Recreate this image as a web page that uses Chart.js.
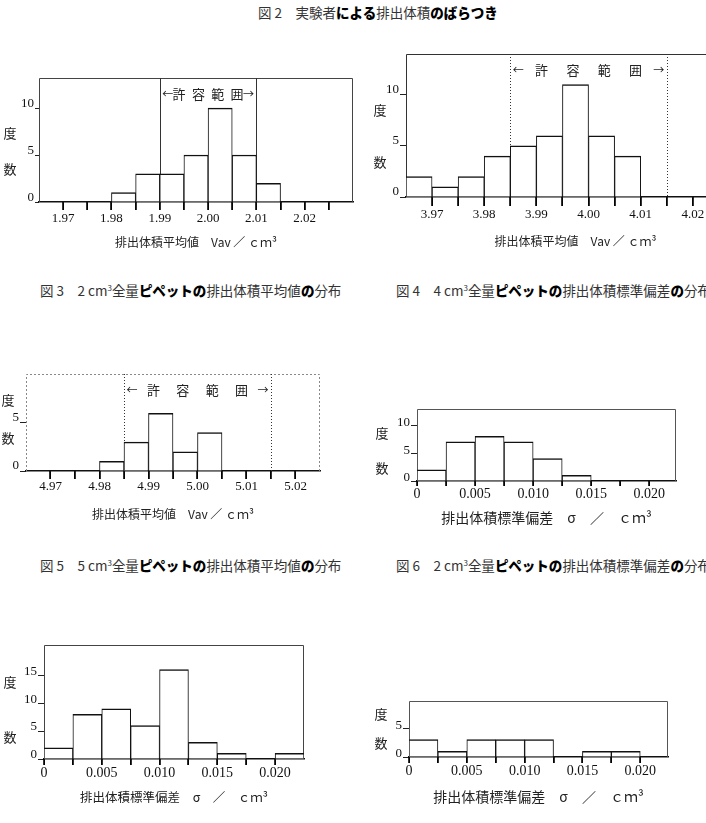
<!DOCTYPE html>
<html lang="ja">
<head>
<meta charset="utf-8">
<title>図2 実験者による排出体積のばらつき</title>
<script src="https://cdn.jsdelivr.net/npm/chart.js@4.4.1/dist/chart.umd.min.js"></script>
<style>
  html, body { margin: 0; padding: 0; background: #fff; overflow: hidden; }
  body { width: 706px; height: 823px; position: relative; font-family: "Noto Sans CJK JP", sans-serif; color: #222; }
  canvas { position: absolute; }
  .cap { position: absolute; font-size: 13.5px; line-height: 16px; white-space: nowrap; color: #333; }
  .cap b { font-weight: 900; color: #000; }
  .cap sup { font-size: 8px; vertical-align: 5px; line-height: 0; }
  .ylab { position: absolute; font-size: 13px; line-height: 14px; transform: translate(-50%, -50%); color: #222; }
</style>
</head>
<body>
<div class="cap" style="left:258px; top:4px;">図 2　実験者<b>による</b>排出体積<b>のばらつき</b></div>

<canvas id="fig2a" width="360" height="200" style="left:0px; top:60px;"></canvas>
<canvas id="fig2b" width="400" height="224" style="left:360px; top:36px;"></canvas>
<div class="ylab" style="left:10px; top:133px;">度</div>
<div class="ylab" style="left:10px; top:169px;">数</div>
<div class="ylab" style="left:380px; top:110px;">度</div>
<div class="ylab" style="left:380px; top:162px;">数</div>

<div class="cap" style="left:40px; top:282px;">図 3　2 cm<sup>3</sup>全量<b>ピペットの</b>排出体積平均値<b>の</b>分布</div>
<div class="cap" style="left:396px; top:282px;">図 4　4 cm<sup>3</sup>全量<b>ピペットの</b>排出体積標準偏差<b>の</b>分布</div>

<canvas id="fig3" width="330" height="170" style="left:0px; top:356px;"></canvas>
<canvas id="fig4" width="316" height="140" style="left:370px; top:391px;"></canvas>
<div class="ylab" style="left:8px; top:400px;">度</div>
<div class="ylab" style="left:8px; top:438px;">数</div>
<div class="ylab" style="left:382px; top:433px;">度</div>
<div class="ylab" style="left:382px; top:468px;">数</div>

<div class="cap" style="left:40px; top:557px;">図 5　5 cm<sup>3</sup>全量<b>ピペットの</b>排出体積平均値<b>の</b>分布</div>
<div class="cap" style="left:396px; top:557px;">図 6　2 cm<sup>3</sup>全量<b>ピペットの</b>排出体積標準偏差<b>の</b>分布</div>

<canvas id="fig5" width="314" height="180" style="left:0px; top:627px;"></canvas>
<canvas id="fig6" width="318" height="124" style="left:360px; top:683px;"></canvas>
<div class="ylab" style="left:10px; top:682px;">度</div>
<div class="ylab" style="left:10px; top:737px;">数</div>
<div class="ylab" style="left:381px; top:714px;">度</div>
<div class="ylab" style="left:381px; top:743px;">数</div>

<script>
// bin widths (cm3)
const meanBinWidth = 0.005;
const sdBinWidth = 0.0025;

// 2 cm3 pipette, mean volume (bin lower edges / counts)
const fig2aBins = [1.980, 1.985, 1.990, 1.995, 2.000, 2.005, 2.010];
const fig2aCounts = [1, 3, 3, 5, 10, 5, 2];
const fig2aTicks = [1.970, 1.975, 1.980, 1.985, 1.990, 1.995, 2.000, 2.005, 2.010, 2.015, 2.020, 2.025];
const fig2aLabels = ['1.97', '', '1.98', '', '1.99', '', '2.00', '', '2.01', '', '2.02', ''];
const fig2aRange = [1.99, 2.01];

// 4 cm3 pipette, mean volume
const fig2bBins = [3.965, 3.970, 3.975, 3.980, 3.985, 3.990, 3.995, 4.000, 4.005];
const fig2bCounts = [2, 1, 2, 4, 5, 6, 11, 6, 4];
const fig2bTicks = [3.970, 3.975, 3.980, 3.985, 3.990, 3.995, 4.000, 4.005, 4.010, 4.015, 4.020, 4.025];
const fig2bLabels = ['3.97', '', '3.98', '', '3.99', '', '4.00', '', '4.01', '', '4.02', ''];
const fig2bRange = [3.985, 4.015];

// 5 cm3 pipette, mean volume
const fig3Bins = [4.980, 4.985, 4.990, 4.995, 5.000];
const fig3Counts = [1, 3, 6, 2, 4];
const fig3Ticks = [4.970, 4.975, 4.980, 4.985, 4.990, 4.995, 5.000, 5.005, 5.010, 5.015, 5.020];
const fig3Labels = ['4.97', '', '4.98', '', '4.99', '', '5.00', '', '5.01', '', '5.02'];
const fig3Range = [4.985, 5.015];

// standard deviations
const sdTicks = [0, 0.0025, 0.005, 0.0075, 0.010, 0.0125, 0.015, 0.0175, 0.020];
const sdLabels = ['0', '', '0.005', '', '0.010', '', '0.015', '', '0.020'];

const fig4Bins = [0, 0.0025, 0.005, 0.0075, 0.010, 0.0125];
const fig4Counts = [2, 7, 8, 7, 4, 1];

const fig5Bins = [0, 0.0025, 0.005, 0.0075, 0.010, 0.0125, 0.015, 0.0175, 0.020];
const fig5Counts = [2, 8, 9, 6, 16, 3, 1, 0, 1];

const fig6Bins = [0, 0.0025, 0.005, 0.0075, 0.010, 0.0125, 0.015, 0.0175];
const fig6Counts = [3, 1, 3, 3, 3, 0, 1, 1];

const yTicks5 = [0, 5];
const yTicks10 = [0, 5, 10];
const yTicks15 = [0, 5, 10, 15];

const meanTitle = '排出体積平均値　Vav ／ ｃｍ³';
const sdTitle = '排出体積標準偏差　σ　／　ｃｍ³';

const jpFont = '"Noto Sans CJK JP", sans-serif';
const numFont = '"Liberation Serif", serif';

// frame box, tolerance range ("許容範囲") and tick marks under the x axis
const decor = {
  id: 'decor',
  beforeDatasetsDraw(chart, args, opts) {
    const { ctx, chartArea: a } = chart;
    const x = chart.scales.x;
    ctx.save();
    ctx.strokeStyle = opts.frameColor;
    ctx.lineWidth = 1;
    ctx.setLineDash(opts.frameDash || []);
    ctx.beginPath();
    ctx.moveTo(a.left + 0.5, a.bottom);
    ctx.lineTo(a.left + 0.5, a.top + 0.5);
    ctx.lineTo(a.right - 0.5, a.top + 0.5);
    ctx.lineTo(a.right - 0.5, a.bottom);
    ctx.stroke();

    if (opts.range) {
      const x1 = x.getPixelForValue(opts.range[0]);
      const x2 = x.getPixelForValue(opts.range[1]);
      ctx.strokeStyle = '#333';
      ctx.setLineDash(opts.rangeDash || []);
      ctx.beginPath();
      [x1, x2].forEach(px => {
        ctx.moveTo(Math.round(px) + 0.5, a.top);
        ctx.lineTo(Math.round(px) + 0.5, a.bottom);
      });
      ctx.stroke();
      ctx.setLineDash([]);
      ctx.fillStyle = '#222';
      ctx.textAlign = 'center';
      ctx.textBaseline = 'middle';
      const y = a.top + 16;
      const w = x2 - x1;
      ctx.font = '11px ' + jpFont;
      ctx.fillText('←', x1 + 8, y);
      ctx.fillText('→', x2 - 8, y);
      ctx.font = '13px ' + jpFont;
      ['許', '容', '範', '囲'].forEach((ch, i) => ctx.fillText(ch, x1 + w * (0.2 + 0.2 * i), y));
    }
    ctx.restore();
  },
  afterDraw(chart, args, opts) {
    const { ctx, chartArea: a } = chart;
    const x = chart.scales.x;
    const len = opts.tickLen || 6;
    ctx.save();
    ctx.strokeStyle = '#000';
    ctx.lineWidth = 1.6;
    ctx.beginPath();
    for (let i = 0; i < x.ticks.length; i++) {
      const px = Math.round(x.getPixelForValue(x.ticks[i].value));
      ctx.moveTo(px, a.bottom);
      ctx.lineTo(px, a.bottom + len);
    }
    ctx.stroke();
    ctx.restore();
  }
};

function histogram(id, o) {
  const points = o.bins
    .map((b, i) => ({ x: b + o.width / 2, y: o.counts[i] }))
    .filter(p => p.y > 0);

  return new Chart(document.getElementById(id), {
    type: 'bar',
    data: {
      datasets: [{
        data: points,
        backgroundColor: '#fff',
        borderColor: '#111',
        borderWidth: { top: 1.5, left: 1, right: 1, bottom: 0 },
        barPercentage: 1,
        categoryPercentage: 1
      }]
    },
    options: {
      responsive: false,
      animation: false,
      events: [],
      layout: { padding: { top: o.padTop, right: o.padRight, left: 0, bottom: 0 } },
      plugins: {
        legend: { display: false },
        tooltip: { enabled: false },
        decor: {
          frameColor: o.frameColor, frameDash: o.frameDash,
          range: o.range, rangeDash: o.rangeDash, tickLen: o.xTick
        }
      },
      scales: {
        x: {
          type: 'linear',
          min: o.xMin,
          max: o.xMax,
          offset: false,
          afterBuildTicks: s => { s.ticks = o.xTicks.map(v => ({ value: v })); },
          afterFit: s => { s.height = o.xH; },
          ticks: {
            autoSkip: false,
            maxRotation: 0,
            padding: o.xPad,
            color: '#111',
            font: { family: numFont, size: o.numSize },
            callback: (v, i) => o.xLabels[i]
          },
          grid: {
            drawOnChartArea: false,
            offset: false,
            tickLength: o.xTick,
            tickColor: '#111'
          },
          border: { color: '#111', width: 1.5 },
          title: {
            display: true,
            text: o.title,
            color: '#222',
            font: { family: jpFont, size: o.titleSize },
            padding: { top: 0, bottom: o.titlePad }
          }
        },
        y: {
          min: 0,
          max: o.yMax,
          afterBuildTicks: s => { s.ticks = o.yTicks.map(v => ({ value: v })); },
          afterFit: s => { s.width = o.yW; },
          ticks: {
            padding: 1,
            labelOffset: o.yLabelOffset,
            color: '#111',
            font: { family: numFont, size: 13 },
            callback: v => String(v)
          },
          grid: { drawOnChartArea: false, tickLength: o.yTick, tickColor: '#222' },
          border: { display: false }
        }
      }
    },
    plugins: [decor]
  });
}

histogram('fig2a', {
  bins: fig2aBins, counts: fig2aCounts, width: meanBinWidth,
  xMin: 1.965, xMax: 2.030, xTicks: fig2aTicks, xLabels: fig2aLabels,
  yMax: 13.2, yTicks: yTicks10,
  padTop: 18, padRight: 7, yW: 39, xH: 58,
  xTick: 8, xPad: 1, numSize: 13, yTick: 4, yLabelOffset: -4,
  title: meanTitle, titleSize: 12, titlePad: 10,
  frameColor: '#444', range: fig2aRange
});

histogram('fig2b', {
  bins: fig2bBins, counts: fig2bCounts, width: meanBinWidth,
  xMin: 3.965, xMax: 4.030, xTicks: fig2bTicks, xLabels: fig2bLabels,
  yMax: 14, yTicks: yTicks10,
  padTop: 18, padRight: 15, yW: 46, xH: 63,
  xTick: 9, xPad: 1, numSize: 13, yTick: 6, yLabelOffset: -5,
  title: meanTitle, titleSize: 12, titlePad: 11,
  frameColor: '#333', range: fig2bRange, rangeDash: [1, 2]
});

histogram('fig3', {
  bins: fig3Bins, counts: fig3Counts, width: meanBinWidth,
  xMin: 4.965, xMax: 5.025, xTicks: fig3Ticks, xLabels: fig3Labels,
  yMax: 10.1, yTicks: yTicks5,
  padTop: 18, padRight: 10, yW: 26, xH: 55,
  xTick: 8, xPad: 0, numSize: 13, yTick: 6, yLabelOffset: -5,
  title: meanTitle, titleSize: 12, titlePad: 4,
  frameColor: '#888', frameDash: [2, 2], range: fig3Range, rangeDash: [1, 2]
});

histogram('fig4', {
  bins: fig4Bins, counts: fig4Counts, width: sdBinWidth,
  xMin: 0, xMax: 0.0223, xTicks: sdTicks, xLabels: sdLabels,
  yMax: 12.9, yTicks: yTicks10,
  padTop: 18, padRight: 10, yW: 47, xH: 50,
  xTick: 5, xPad: 0, numSize: 14, yTick: 6, yLabelOffset: -3,
  title: sdTitle, titleSize: 14, titlePad: 5,
  frameColor: '#555'
});

histogram('fig5', {
  bins: fig5Bins, counts: fig5Counts, width: sdBinWidth,
  xMin: 0, xMax: 0.0225, xTicks: sdTicks, xLabels: sdLabels,
  yMax: 20.4, yTicks: yTicks15,
  padTop: 18, padRight: 10, yW: 44, xH: 48,
  xTick: 6, xPad: 0, numSize: 14, yTick: 6, yLabelOffset: -4,
  title: sdTitle, titleSize: 12.5, titlePad: 2,
  frameColor: '#444'
});

histogram('fig6', {
  bins: fig6Bins, counts: fig6Counts, width: sdBinWidth,
  xMin: 0, xMax: 0.0224, xTicks: sdTicks, xLabels: sdLabels,
  yMax: 9.7, yTicks: yTicks5,
  padTop: 18, padRight: 10, yW: 49, xH: 50,
  xTick: 6, xPad: 0, numSize: 14, yTick: 6, yLabelOffset: -3,
  title: sdTitle, titleSize: 14, titlePad: 2,
  frameColor: '#555'
});
</script>
</body>
</html>
